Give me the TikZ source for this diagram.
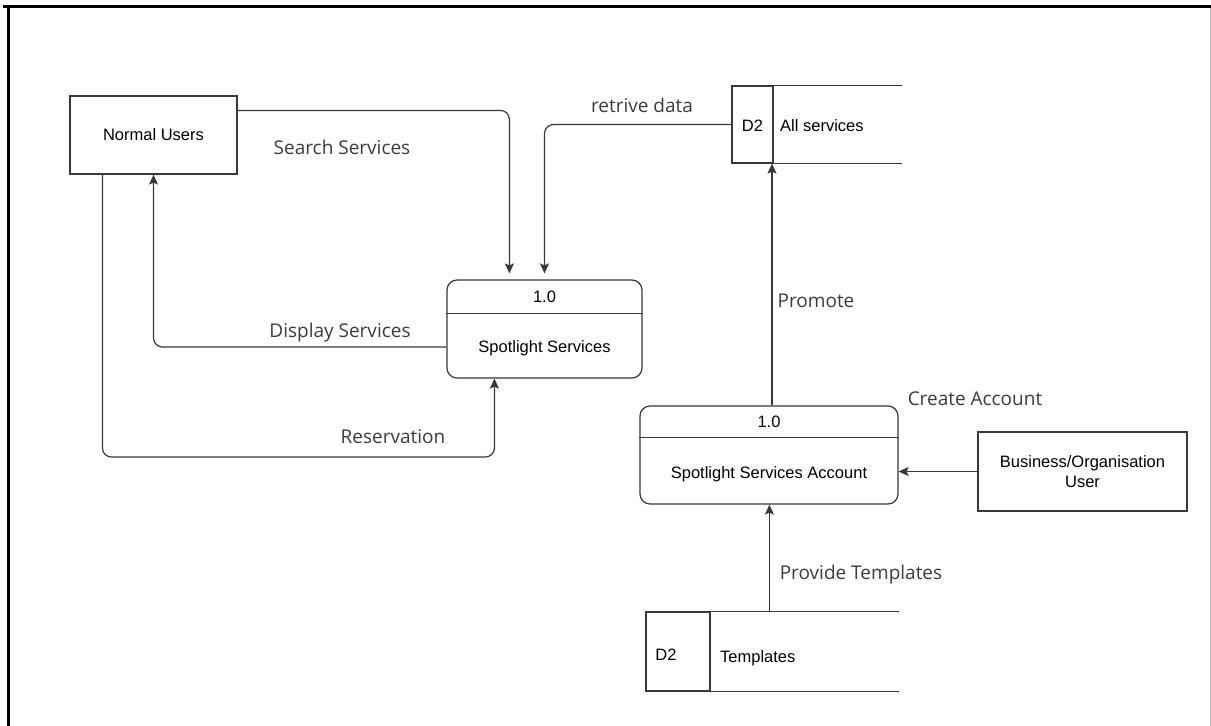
\documentclass[tikz,border=0pt]{standalone}
\usepackage{fontspec}
\setmainfont{Liberation Sans}
\newfontfamily\labelfont{Open Sans}
\usetikzlibrary{arrows.meta,calc}
\definecolor{linec}{HTML}{383838}
\definecolor{labc}{HTML}{3C3C3C}
\begin{document}
\begin{tikzpicture}[x=1pt,y=-1pt,
  ent/.style={draw=linec,line width=1.2pt,rectangle,inner sep=0pt,align=center,font=\fontsize{16.5}{20}\selectfont},
  proc/.style={draw=linec,line width=1.2pt,rectangle,rounded corners=10pt,inner sep=0pt},
  ptext/.style={inner sep=0pt,font=\fontsize{16.5}{20}\selectfont},
  flow/.style={draw=linec,line width=1.2pt,rounded corners=9pt,-{Stealth[width=9pt,length=10pt,inset=2pt]}},
  flowlab/.style={inner sep=0pt,text=labc,font=\labelfont\fontsize{19}{23}\selectfont},
  store/.style={draw=linec,line width=1.2pt}]
\useasboundingbox (0,0) rectangle (1211,726);
\fill[white] (0,0) rectangle (1211,726);
% frame
\draw[line width=2.5pt] (3,6.5) -- (1211,6.5);
\draw[line width=2.5pt] (8.5,6) -- (8.5,726);
\draw[black!30,line width=1pt] (1210,8) -- (1210,726);

% entities
\node[ent,minimum width=167pt,minimum height=78pt] (nu) at (153.5,135) {Normal Users};
\node[ent,minimum width=209pt,minimum height=79pt] (biz) at (1082.5,471.5) {Business/Organisation\\User};

% process 1
\node[proc,minimum width=195pt,minimum height=98pt] (ss) at (544.5,329) {};
\draw[store] ($(ss.north west)+(0,34)$) -- ($(ss.north east)+(0,34)$);
\node[ptext] (ssid) at (544.5,297) {1.0};
\node[ptext] (sst) at (544.5,348) {Spotlight Services};

% process 2
\node[proc,minimum width=258pt,minimum height=98pt] (acc) at (769,455) {};
\draw[store] ($(acc.north west)+(0,32)$) -- ($(acc.north east)+(0,32)$);
\node[ptext] (accid) at (769,422) {1.0};
\node[ptext] (acct) at (769,474) {Spotlight Services Account};

% data store All services
\node[store,rectangle,inner sep=0pt,minimum width=41pt,minimum height=77pt] (ds1id) at (752.5,124.5) {};
\node[ptext] (ds1d) at (752.5,126) {D2};
\draw[store] (ds1id.north east) -- ++(128,0);
\draw[store] (ds1id.south east) -- ++(128,0);
\node[ptext,anchor=west] (ds1) at (780,126) {All services};

% data store Templates
\node[store,rectangle,inner sep=0pt,minimum width=64pt,minimum height=79pt] (ds2id) at (678,651.5) {};
\node[ptext] (ds2d) at (666,655) {D2};
\draw[store] (ds2id.north east) -- ++(188,0);
\draw[store] (ds2id.south east) -- ++(188,0);
\node[ptext,anchor=west] (ds2) at (720,658) {Templates};

% connectors
\coordinate (s1) at ($(nu.north east)+(0,15)$);
\coordinate (s2) at ($(ss.north west)+(63,0)$);
\draw[flow,shorten >=6pt] (s1) -| (s2);
\draw[flow,shorten >=6pt] (ds1id.west) -| (ss.north);
\coordinate (d1) at ($(ss.west)+(0,18)$);
\draw[flow] (d1) -| (nu.south);
\coordinate (r1) at ($(nu.south west)+(33,0)$);
\coordinate (rb) at (300,457);
\coordinate (r3) at ($(ss.south west)+(48,0)$);
\draw[flow] (r1) |- (rb) -| (r3);
\coordinate (p1) at ($(acc.north)+(3,0)$);
\draw[flow] (p1) -- (p1 |- ds1id.south);
\draw[flow] (biz.west) -- (biz.west -| acc.east);
\coordinate (t1) at ($(ds2id.north west)+(124,0)$);
\draw[flow] (t1) -- (t1 |- acc.south);

% labels
\node[flowlab] (l1) at (342,147) {Search Services};
\node[flowlab] (l2) at (642,105) {retrive data};
\node[flowlab] (l3) at (340,333) {Display Services};
\node[flowlab] (l4) at (393,437) {Reservation};
\node[flowlab] (l5) at (816,301) {Promote};
\node[flowlab] (l6) at (975,399) {Create Account};
\node[flowlab] (l7) at (861,575) {Provide Templates};
\end{tikzpicture}
\end{document}
